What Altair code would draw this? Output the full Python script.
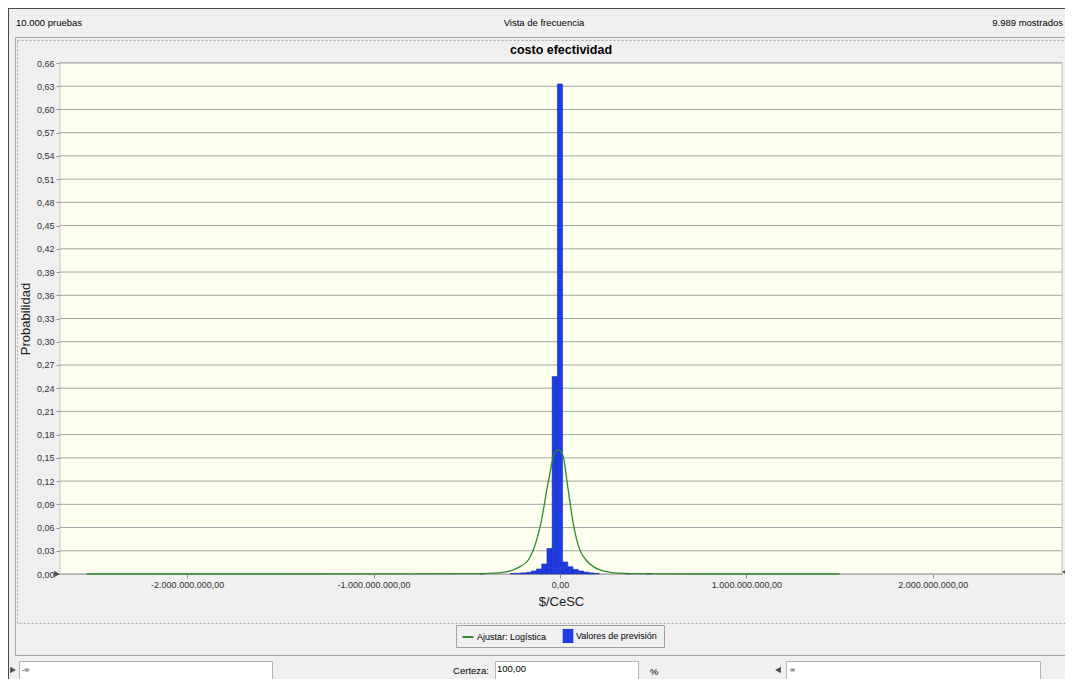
import altair as alt

FONT = "Liberation Sans, Arial, sans-serif"
FIT = "Ajustar: Logística"
FORECAST = "Valores de previsión"
GREEN = "#2E8B2E"
BLUE = "#1F3BE6"

# ---- data ----
# forecast histogram: bin centres (millions of $/CeSC) and probability per bin
bin_center_millions = [-420, -252, -224, -196, -168, -140, -112, -84, -56, -28,
                       0, 28, 56, 84, 112, 140, 168, 196, 364, 476]
bin_probability = [0.0004, 0.0006, 0.001, 0.0015, 0.0022, 0.004, 0.0065, 0.013, 0.033, 0.255,
                   0.633, 0.0155, 0.0095, 0.006, 0.004, 0.0025, 0.0015, 0.0008, 0.0003, 0.0004]
BIN_WIDTH_MILLIONS = 28

# fitted logistic curve (millions of $/CeSC, probability)
fit_x_millions = [-2540, -1500, -800, -500, -350, -300, -250, -215, -170, -143, -125, -103, -86,
                  -71, -54, -36, -24, -11, 3, 12, 18, 32, 44, 57, 71, 90, 107, 140, 179, 215,
                  280, 350, 500, 800, 1500]
fit_probability = [0, 0, 0.0001, 0.0004, 0.0012, 0.0025, 0.0052, 0.0095, 0.0181, 0.031, 0.044,
                   0.065, 0.087, 0.1085, 0.130, 0.1516, 0.158, 0.160, 0.159, 0.155, 0.1516, 0.130,
                   0.1085, 0.087, 0.0654, 0.044, 0.031, 0.0181, 0.0095, 0.0052, 0.0018, 0.0007,
                   0.0002, 0, 0]

y_tick_values = [0.00, 0.03, 0.06, 0.09, 0.12, 0.15, 0.18, 0.21, 0.24, 0.27, 0.30, 0.33,
                 0.36, 0.39, 0.42, 0.45, 0.48, 0.51, 0.54, 0.57, 0.60, 0.63, 0.66]
x_tick_values = [-2e9, -1e9, 0, 1e9, 2e9]

header_left = "10.000 pruebas"
header_center = "Vista de frecuencia"
header_right = "9.989 mostrados"
chart_title = "costo efectividad"
certainty_label = "Certeza:"
certainty_value = "100,00"

hist_rows = [{"c": c, "p": p, "series": FORECAST} for c, p in zip(bin_center_millions, bin_probability)]
fit_rows = [{"xm": x, "p": p, "series": FIT} for x, p in zip(fit_x_millions, fit_probability)]
grid_rows = [{"v": v} for v in y_tick_values]

# ---- scales / axes ----
x_scale = alt.Scale(domain=[-2.682e9, 2.693e9], nice=False, zero=False)
y_scale = alt.Scale(domain=[0, 0.66], nice=False)

x_label_expr = ("replace(replace(replace(replace(format(datum.value, ',.2f'), regexp(',', 'g'), '~'), "
                "'.', ','), regexp('~', 'g'), '.'), '\u2212', '-')")

x_axis = alt.Axis(values=x_tick_values, labelExpr=x_label_expr, grid=False, domain=True,
                  domainColor="#B8B8B8", tickColor="#909090", tickSize=4, labelFont=FONT,
                  labelFontSize=9, labelColor="#303030", labelPadding=2, title="$/CeSC",
                  titleFont=FONT, titleFontSize=13, titleFontWeight="normal", titleColor="#202020",
                  titlePadding=6)
y_axis = alt.Axis(values=y_tick_values, labelExpr="replace(format(datum.value, '.2f'), '.', ',')",
                  grid=False, domain=False, tickColor="#909090",
                  tickSize=4, labelFont=FONT, labelFontSize=9, labelColor="#303030", labelPadding=2,
                  title="Probabilidad", titleFont=FONT, titleFontSize=13, titleFontWeight="normal",
                  titleColor="#202020", titlePadding=4)

RECT_SHAPE = "M-0.76,-1H0.76V1H-0.76Z"
fit_legend = alt.Legend(
    title=None, orient="none", legendX=401.5, legendY=567.5, padding=0,
    symbolType="stroke", symbolSize=121, symbolStrokeWidth=2, labelFont=FONT, labelFontSize=9,
    labelColor="#000000", labelOffset=2.5,
)
forecast_legend = alt.Legend(
    title=None, orient="none", legendX=501, legendY=566, padding=0,
    symbolType=RECT_SHAPE, symbolSize=196, symbolStrokeWidth=0, labelFont=FONT, labelFontSize=9,
    labelColor="#000000", labelOffset=1,
)

# ---- window chrome (page coordinates converted to plot coordinates) ----
PX0, PY0 = 60, 63
deco = alt.Data(values=[{"k": 0}])


def box(x1, y1, x2, y2, fill="transparent", stroke="#A0A0A0", dash=None, sw=1):
    kw = dict(fill=fill, stroke=stroke, strokeWidth=sw)
    if dash:
        kw["strokeDash"] = dash
    return alt.Chart(deco).mark_rect(**kw).encode(
        x=alt.value(x1 - PX0), x2=alt.value(x2 - PX0), y=alt.value(y1 - PY0), y2=alt.value(y2 - PY0))


def label(txt, x, y, align="left", size=9.5, color="#000000", weight="normal"):
    return alt.Chart(deco).mark_text(text=txt, align=align, baseline="middle", font=FONT,
                                     fontSize=size, color=color, fontWeight=weight).encode(
        x=alt.value(x - PX0), y=alt.value(y - PY0))


def grip(shape, x, y, size=45):
    return alt.Chart(deco).mark_point(shape=shape, filled=True, size=size, color="#505050",
                                      opacity=1).encode(x=alt.value(x - PX0), y=alt.value(y - PY0))


chrome = [
    box(8, 8, 1090, 9, fill="#4A4A4A", stroke="transparent"),
    box(8, 8, 9, 700, fill="#4A4A4A", stroke="transparent"),
    box(15.5, 37.5, 1090, 655.5, stroke="#A8A8A8"),
    box(17.5, 40.5, 1090, 623.5, stroke="#A8A8A8", dash=[2, 2]),
    box(456.5, 625.5, 664.5, 647.5, stroke="#A0A0A0"),
    label(header_left, 16, 23),
    label(header_center, 544, 23, align="center"),
    label(header_right, 1063, 23, align="right"),
    label(chart_title, 561, 50, align="center", size=12.5, weight="bold"),
    box(19.5, 661.5, 272.5, 679.5, fill="#FFFFFF", stroke="#B4B4B4"),
    label("-\u221e", 22, 670, size=7),
    label(certainty_label, 489, 671, align="right"),
    box(495.5, 661.5, 638.5, 680.5, fill="#FFFFFF", stroke="#B4B4B4"),
    label(certainty_value, 497, 669),
    label("%", 650, 672),
    box(786.5, 661.5, 1040.5, 680.5, fill="#FFFFFF", stroke="#B4B4B4"),
    label("\u221e", 790, 670, size=7),
    grip("triangle-right", 13, 670),
    grip("triangle-left", 778, 670),
    # plot-area background
    box(60, 62.5, 1062, 574, fill="#FFFFF0", stroke="#C8C8C8"),
]

grid = alt.Chart(alt.Data(values=grid_rows)).mark_rule(color="#A4A4A4", strokeWidth=1).encode(
    y=alt.Y("v:Q", scale=y_scale, axis=y_axis),
    x=alt.value(0), x2=alt.value(1002),
)

bars = alt.Chart(alt.Data(values=hist_rows)).transform_calculate(
    x0=f"(datum.c - {BIN_WIDTH_MILLIONS}/2) * 1e6",
    x1=f"(datum.c + {BIN_WIDTH_MILLIONS}/2) * 1e6",
).mark_bar(stroke="#1226A0", strokeWidth=0.5, opacity=1).encode(
    x=alt.X("x0:Q", scale=x_scale, axis=x_axis),
    x2="x1:Q",
    y=alt.Y("p:Q", scale=y_scale, axis=y_axis),
    y2=alt.datum(0),
    fill=alt.Fill("series:N", scale=alt.Scale(domain=[FORECAST], range=[BLUE]), legend=forecast_legend),
)

fit_line = alt.Chart(alt.Data(values=fit_rows)).transform_calculate(
    x0="datum.xm * 1e6"
).mark_line(interpolate="monotone", strokeWidth=1.3).encode(
    x=alt.X("x0:Q", scale=x_scale, axis=x_axis),
    y=alt.Y("p:Q", scale=y_scale, axis=y_axis),
    stroke=alt.Stroke("series:N", scale=alt.Scale(domain=[FIT], range=[GREEN]), legend=fit_legend),
)

grips = [grip("triangle-right", 57, 574), grip("triangle-left", 1065, 572)]

chart = alt.layer(*chrome, grid, bars, fit_line, *grips).properties(
    width=1002, height=511,
    padding={"left": 52, "top": 55, "right": 3, "bottom": 105},
    autosize=alt.AutoSizeParams(type="none"),
).configure_view(
    stroke=None
).configure(background="#F0F0F0")

chart.save("out.html", embed_options={"renderer": "svg", "actions": False})
